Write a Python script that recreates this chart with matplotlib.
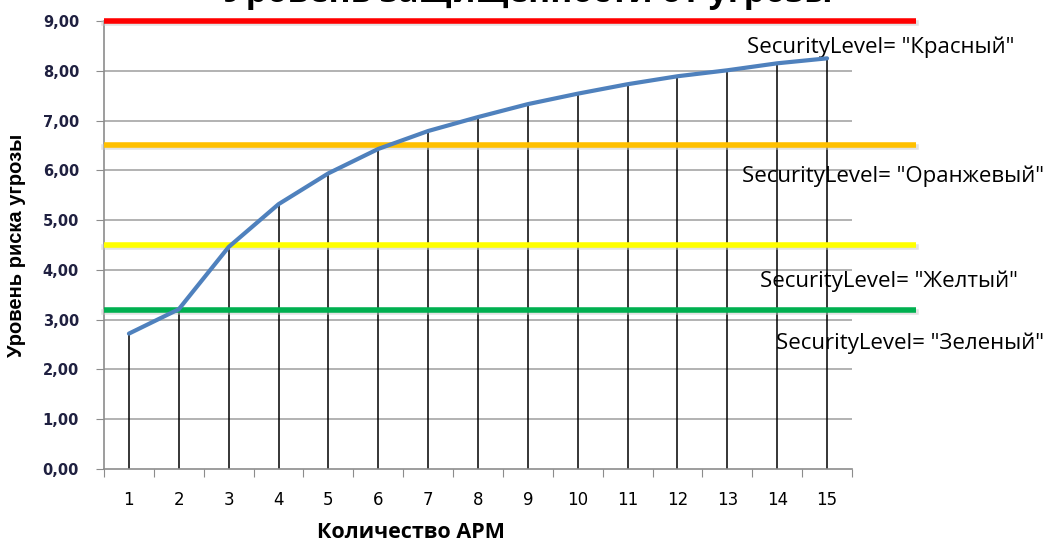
import numpy as np
import matplotlib
matplotlib.use('Agg')
import matplotlib.pyplot as plt
import matplotlib.transforms as mtransforms

# data
arm_count = list(range(1, 16))
risk_level = [2.72, 3.21, 4.46, 5.32, 5.94, 6.43, 6.79, 7.07, 7.33, 7.54, 7.73, 7.89, 8.01, 8.15, 8.25]

levels = [9.0, 6.5, 4.5, 3.2]
level_colors = ['#ff0000', '#ffc000', '#ffff00', '#00b050']
level_names = ['SecurityLevel= "Красный"', 'SecurityLevel= "Оранжевый"',
               'SecurityLevel= "Желтый"', 'SecurityLevel= "Зеленый"']
label_pos = [(747, 47), (742, 176), (760, 281), (776, 343)]  # pixel positions of the captions

y_ticks = np.arange(0, 10, 1)
y_ticklabels = [('%.2f' % v).replace('.', ',') for v in y_ticks]

W, H = 1047, 542
fig = plt.figure(figsize=(W / 100, H / 100), dpi=100)
ax = fig.add_axes([104 / W, 1 - 469 / H, (852 - 104) / W, (469 - 21) / H])

ax.set_xlim(0.5, 15.5)
ax.set_ylim(0, 9)

# horizontal grid
for v in y_ticks[1:]:
    ax.axhline(v, color='#a6a6a6', lw=1.2, zorder=1)

# captions sit under the lines
for name, (px, py) in zip(level_names, label_pos):
    ax.text(px / W, 1 - py / H, name, fontsize=16, family='Open Sans', va='center', ha='left',
            transform=fig.transFigure, clip_on=False, zorder=1.5)

# drop lines
ax.vlines(arm_count, 0, risk_level, color='black', lw=1.1, zorder=2)

# threshold lines, they run past the plot area
x_end = 0.5 + (916 - 104) / ((852 - 104) / 15)
shadow = ax.transData + mtransforms.ScaledTranslation(0, -2 / 100, fig.dpi_scale_trans)
for lv, c in zip(levels, level_colors):
    ax.plot([0.5, x_end], [lv, lv], color='#c8c8c8', lw=4, alpha=0.5, clip_on=False, zorder=3,
            transform=shadow)
    ax.plot([0.5, x_end], [lv, lv], color=c, lw=4, clip_on=False, zorder=4, solid_capstyle='butt')

ax.plot(arm_count, risk_level, color='#4f81bd', lw=3, zorder=5, solid_capstyle='round')

# axes look
for s in ['top', 'right']:
    ax.spines[s].set_visible(False)
for s in ['left', 'bottom']:
    ax.spines[s].set_color('#8c8c8c')
    ax.spines[s].set_linewidth(1.2)

ax.set_yticks(y_ticks)
ax.set_yticklabels(y_ticklabels, fontsize=10.5, fontweight='bold', color='#1f2040')
ax.tick_params(axis='y', length=6, color='#8c8c8c', pad=12)

ax.set_xticks(np.arange(0.5, 16, 1))
ax.set_xticklabels([])
ax.set_xticks(arm_count, minor=True)
ax.set_xticklabels([str(v) for v in arm_count], minor=True, fontsize=12, family='Liberation Sans Narrow')
ax.tick_params(axis='x', which='major', length=6, color='#8c8c8c')
ax.tick_params(axis='x', which='minor', length=0, pad=16)

fig.text(17 / W, 1 - 245 / H, 'Уровень риска угрозы', rotation=90, fontsize=14.5, fontweight='bold',
         family='Liberation Sans', va='center', ha='center')
fig.text(411 / W, 1 - 533 / H, 'Количество АРМ', fontsize=15.5, fontweight='bold',
         family='Open Sans', va='center', ha='center')
fig.text(528 / W, 1 - 2 / H, 'Уровень защищенности от угрозы', fontsize=24, fontweight='bold',
         family='Open Sans', va='baseline', ha='center')

fig.savefig('out.png', dpi=100)
